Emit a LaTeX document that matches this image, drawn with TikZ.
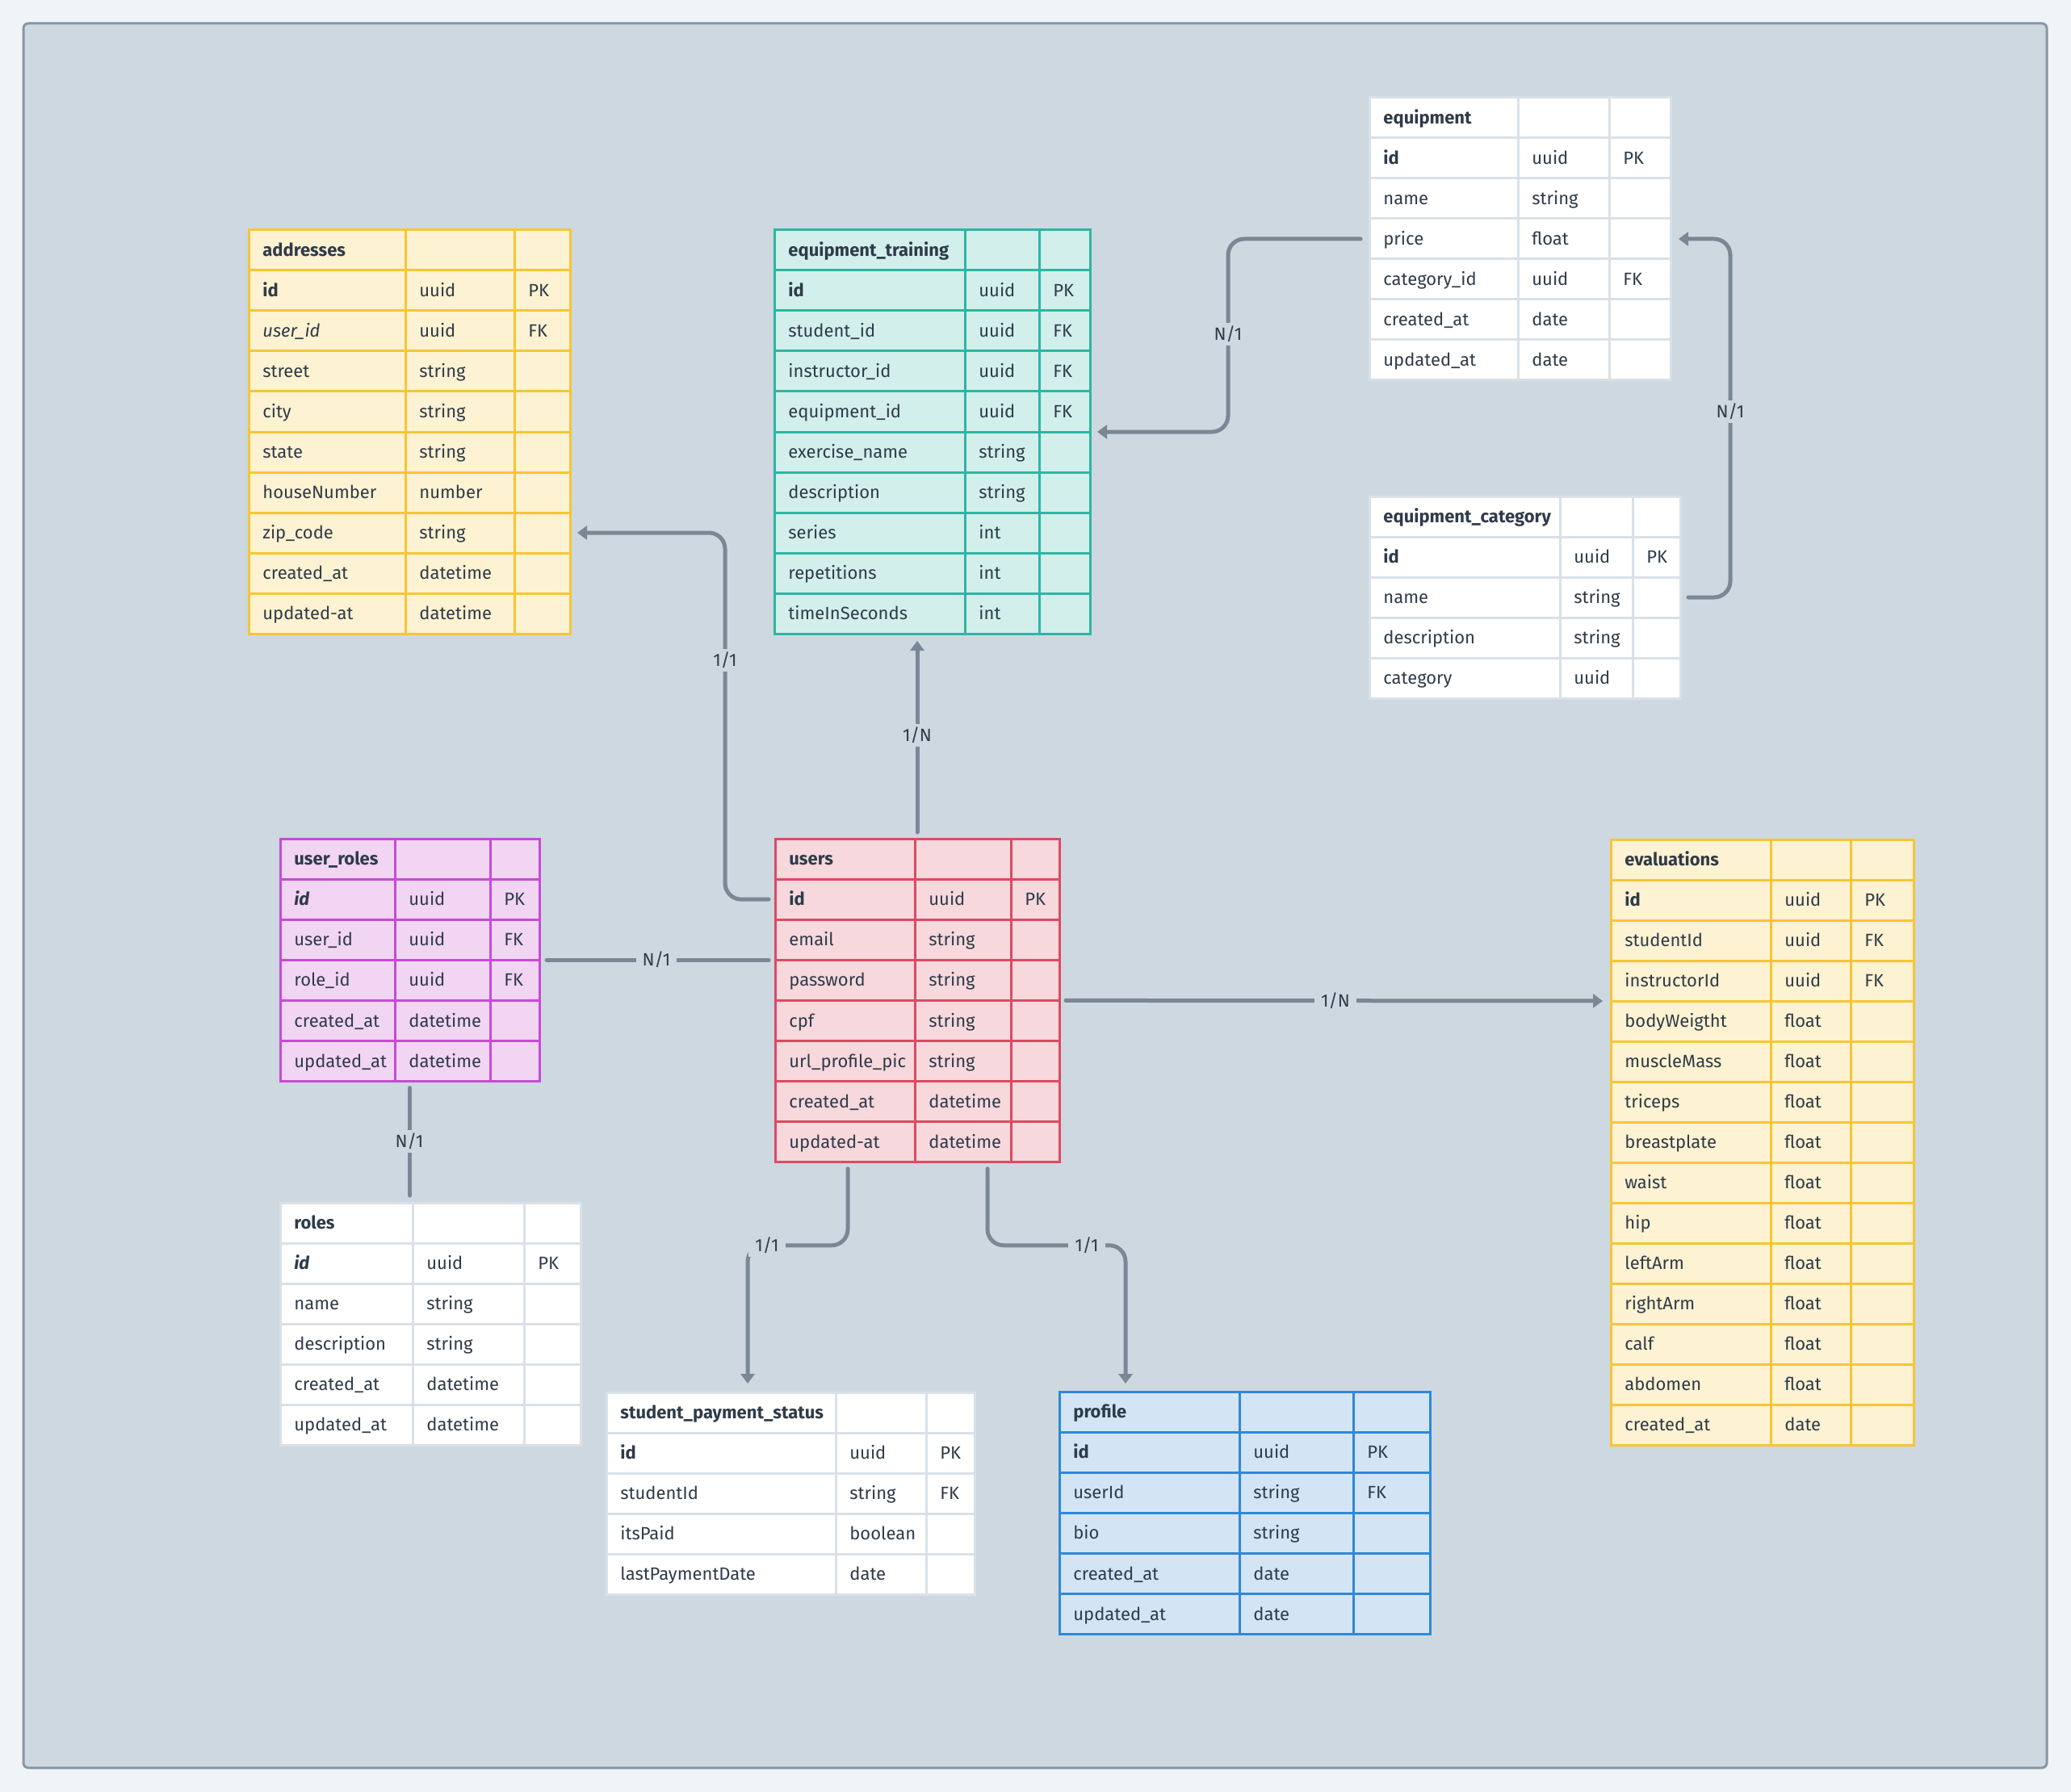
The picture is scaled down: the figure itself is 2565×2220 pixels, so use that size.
\documentclass[tikz,border=0pt]{standalone}
\usepackage{fontspec}
\setmainfont{Fira Sans}
\usetikzlibrary{arrows.meta}

\definecolor{pagebg}{HTML}{F0F4F7}
\definecolor{framefill}{HTML}{CED8E1}
\definecolor{frameline}{HTML}{8896A3}
\definecolor{txt}{HTML}{2F3B49}
\definecolor{connc}{HTML}{7A8795}
\definecolor{ylwfill}{HTML}{FDF2D1}
\definecolor{ylwline}{HTML}{F7C535}
\definecolor{tealfill}{HTML}{D2EFEC}
\definecolor{tealline}{HTML}{2DB6A2}
\definecolor{whtline}{HTML}{D9E1E7}
\definecolor{magfill}{HTML}{F1D5F3}
\definecolor{magline}{HTML}{C84AD6}
\definecolor{pinkfill}{HTML}{F6D8DD}
\definecolor{pinkline}{HTML}{DD4A62}
\definecolor{bluefill}{HTML}{D3E5F5}
\definecolor{blueline}{HTML}{3088DA}

% One entity table: #1 name, #2 colour style, #3..#6 column edges (left, split, split, right),
% #7 top edge, #8 row height, #9 rows as field/type/key
\newcommand{\erdtable}[9]{%
  \pgfmathsetmacro{\erdw}{(#6-#3)/2}%
  \pgfmathsetmacro{\erdh}{#8/2}%
  \foreach \fa/\fb/\fc [count=\ri from 0] in {#9} {%
    \pgfmathsetmacro{\yt}{#7+\ri*#8}%
    \pgfmathsetmacro{\yc}{#7+(\ri+0.5)*#8}%
    \pgfmathsetmacro{\yb}{#7+(\ri+1)*#8}%
    \node[rowbox,#2,minimum width=\erdw pt,minimum height=\erdh pt,anchor=north west] (#1-\ri) at (#3,\yt) {};
    \draw[#2,fill=none,line width=1.5pt] (#4,\yt) -- (#4,\yb) (#5,\yt) -- (#5,\yb);
    \node[celltext] (#1-\ri-a) at (#3+17,\yc) {\fa};
    \node[celltext] (#1-\ri-b) at (#4+17,\yc) {\fb};
    \node[celltext] (#1-\ri-c) at (#5+17,\yc) {\fc};
  }%
}

\begin{document}
\begin{tikzpicture}[x=0.5pt,y=-0.5pt,
  rowbox/.style={rectangle,inner sep=0pt,outer sep=0pt,line width=1.5pt},
  celltext/.style={anchor=west,inner sep=0pt,text=txt,text height=7.6pt,text depth=0pt,
    font=\fontsize{11}{13}\selectfont},
  ylwtab/.style={fill=ylwfill,draw=ylwline},
  tealtab/.style={fill=tealfill,draw=tealline},
  whttab/.style={fill=white,draw=whtline},
  magtab/.style={fill=magfill,draw=magline},
  pinktab/.style={fill=pinkfill,draw=pinkline},
  bluetab/.style={fill=bluefill,draw=blueline},
  connplain/.style={draw=connc,line width=2.5pt,line cap=round,rounded corners=10pt},
  conn/.style={connplain,-{Triangle[length=6pt,width=8.5pt]}},
  lbl/.style={fill=framefill,inner xsep=4pt,inner ysep=3pt,text=txt,text height=7.6pt,
    text depth=0pt,font=\fontsize{11}{13}\selectfont}]

% page and drawing area
\useasboundingbox (0,0) rectangle (2565,2220);
\fill[pagebg] (0,0) rectangle (2565,2220);
\filldraw[fill=framefill,draw=frameline,line width=1.5pt,rounded corners=3pt]
  (29,29) rectangle (2535,2190);

% entity tables
\erdtable{addr}{ylwtab}{308}{502}{637}{706}{285}{50}{%
  {\textbf{addresses}}/{}/{},
  {\textbf{id}}/uuid/PK,
  {\textit{user\_id}}/uuid/FK,
  street/string/{},
  city/string/{},
  state/string/{},
  houseNumber/number/{},
  zip\_code/string/{},
  created\_at/datetime/{},
  updated-at/datetime/{}}

\erdtable{eqt}{tealtab}{959}{1195}{1287}{1350}{285}{50}{%
  {\textbf{equipment\_training}}/{}/{},
  {\textbf{id}}/uuid/PK,
  student\_id/uuid/FK,
  instructor\_id/uuid/FK,
  equipment\_id/uuid/FK,
  exercise\_name/string/{},
  description/string/{},
  series/int/{},
  repetitions/int/{},
  timeInSeconds/int/{}}

\erdtable{equip}{whttab}{1696}{1880}{1993}{2069}{121}{50}{%
  {\textbf{equipment}}/{}/{},
  {\textbf{id}}/uuid/PK,
  name/string/{},
  price/float/{},
  category\_id/uuid/FK,
  created\_at/date/{},
  updated\_at/date/{}}

\erdtable{eqcat}{whttab}{1696}{1932}{2022}{2081}{615}{50}{%
  {\textbf{equipment\_category}}/{}/{},
  {\textbf{id}}/uuid/PK,
  name/string/{},
  description/string/{},
  category/uuid/{}}

\erdtable{uroles}{magtab}{347}{489}{607}{668}{1039}{50.1}{%
  {\textbf{user\_roles}}/{}/{},
  {\textbf{\textit{id}}}/uuid/PK,
  user\_id/uuid/FK,
  role\_id/uuid/FK,
  created\_at/datetime/{},
  updated\_at/datetime/{}}

\erdtable{users}{pinktab}{960}{1133}{1252}{1312}{1039}{50.1}{%
  {\textbf{users}}/{}/{},
  {\textbf{id}}/uuid/PK,
  email/string/{},
  password/string/{},
  cpf/string/{},
  url\_profile\_pic/string/{},
  created\_at/datetime/{},
  updated-at/datetime/{}}

\erdtable{evals}{ylwtab}{1995}{2193}{2292}{2370}{1040}{50}{%
  {\textbf{evaluations}}/{}/{},
  {\textbf{id}}/uuid/PK,
  studentId/uuid/FK,
  instructorId/uuid/FK,
  bodyWeigtht/float/{},
  muscleMass/float/{},
  triceps/float/{},
  breastplate/float/{},
  waist/float/{},
  hip/float/{},
  leftArm/float/{},
  rightArm/float/{},
  calf/float/{},
  abdomen/float/{},
  created\_at/date/{}}

\erdtable{roles}{whttab}{347}{511}{649}{719}{1490}{50}{%
  {\textbf{roles}}/{}/{},
  {\textbf{\textit{id}}}/uuid/PK,
  name/string/{},
  description/string/{},
  created\_at/datetime/{},
  updated\_at/datetime/{}}

\erdtable{sps}{whttab}{751}{1035}{1147}{1207}{1725}{50}{%
  {\textbf{student\_payment\_status}}/{}/{},
  {\textbf{id}}/uuid/PK,
  studentId/string/FK,
  itsPaid/boolean/{},
  lastPaymentDate/date/{}}

\erdtable{profile}{bluetab}{1312}{1535}{1676}{1771}{1724}{50.1}{%
  {\textbf{profile}}/{}/{},
  {\textbf{id}}/uuid/PK,
  userId/string/FK,
  bio/string/{},
  created\_at/date/{},
  updated\_at/date/{}}

% relationships
\draw[conn] ([xshift=-4pt]users-1.west) -- ++(-54,0) |- ([xshift=4.5pt]addr-7.east);
\draw[connplain] ([xshift=4.5pt]uroles-2.south east) -- ([xshift=-4pt]users-2.south west);
\draw[conn,shorten <=4pt,shorten >=4.5pt] (users-0.north) -- (users-0.north |- eqt-9.south);
\draw[conn] ([xshift=4pt]users-3.south east) -- ([xshift=-5pt]evals-3.south west);
\draw[conn] ([xshift=-43pt,yshift=-4pt]users-7.south) -- ++(0,95)
  -| ([xshift=-26.5pt,yshift=5.5pt]sps-0.north);
\draw[conn] ([xshift=43.5pt,yshift=-4pt]users-7.south) -- ++(0,95)
  -| ([xshift=-73.75pt,yshift=5pt]profile-0.north);
\draw[connplain,shorten <=4pt,shorten >=4.5pt] (uroles-5.south) -- (uroles-5.south |- roles-0.north);
\draw[conn] ([xshift=-5.5pt]equip-3.west) -- ++(-164,0) |- ([xshift=4.5pt]eqt-5.north east);
\draw[conn] ([xshift=5pt]eqcat-2.east) -- ++(52,0) |- ([xshift=5pt]equip-3.east);

% cardinality labels
\node[lbl] (lab-addr) at (898,818) {1/1};
\node[lbl] (lab-uroles) at (813,1189) {N/1};
\node[lbl] (lab-eqt) at (1136,911) {1/N};
\node[lbl] (lab-evals) at (1654,1240) {1/N};
\node[lbl] (lab-sps) at (950,1543) {1/1};
\node[lbl] (lab-profile) at (1346,1543) {1/1};
\node[lbl] (lab-roles) at (507,1414) {N/1};
\node[lbl] (lab-equip) at (1521,414) {N/1};
\node[lbl] (lab-eqcat) at (2143,510) {N/1};
\end{tikzpicture}
\end{document}
